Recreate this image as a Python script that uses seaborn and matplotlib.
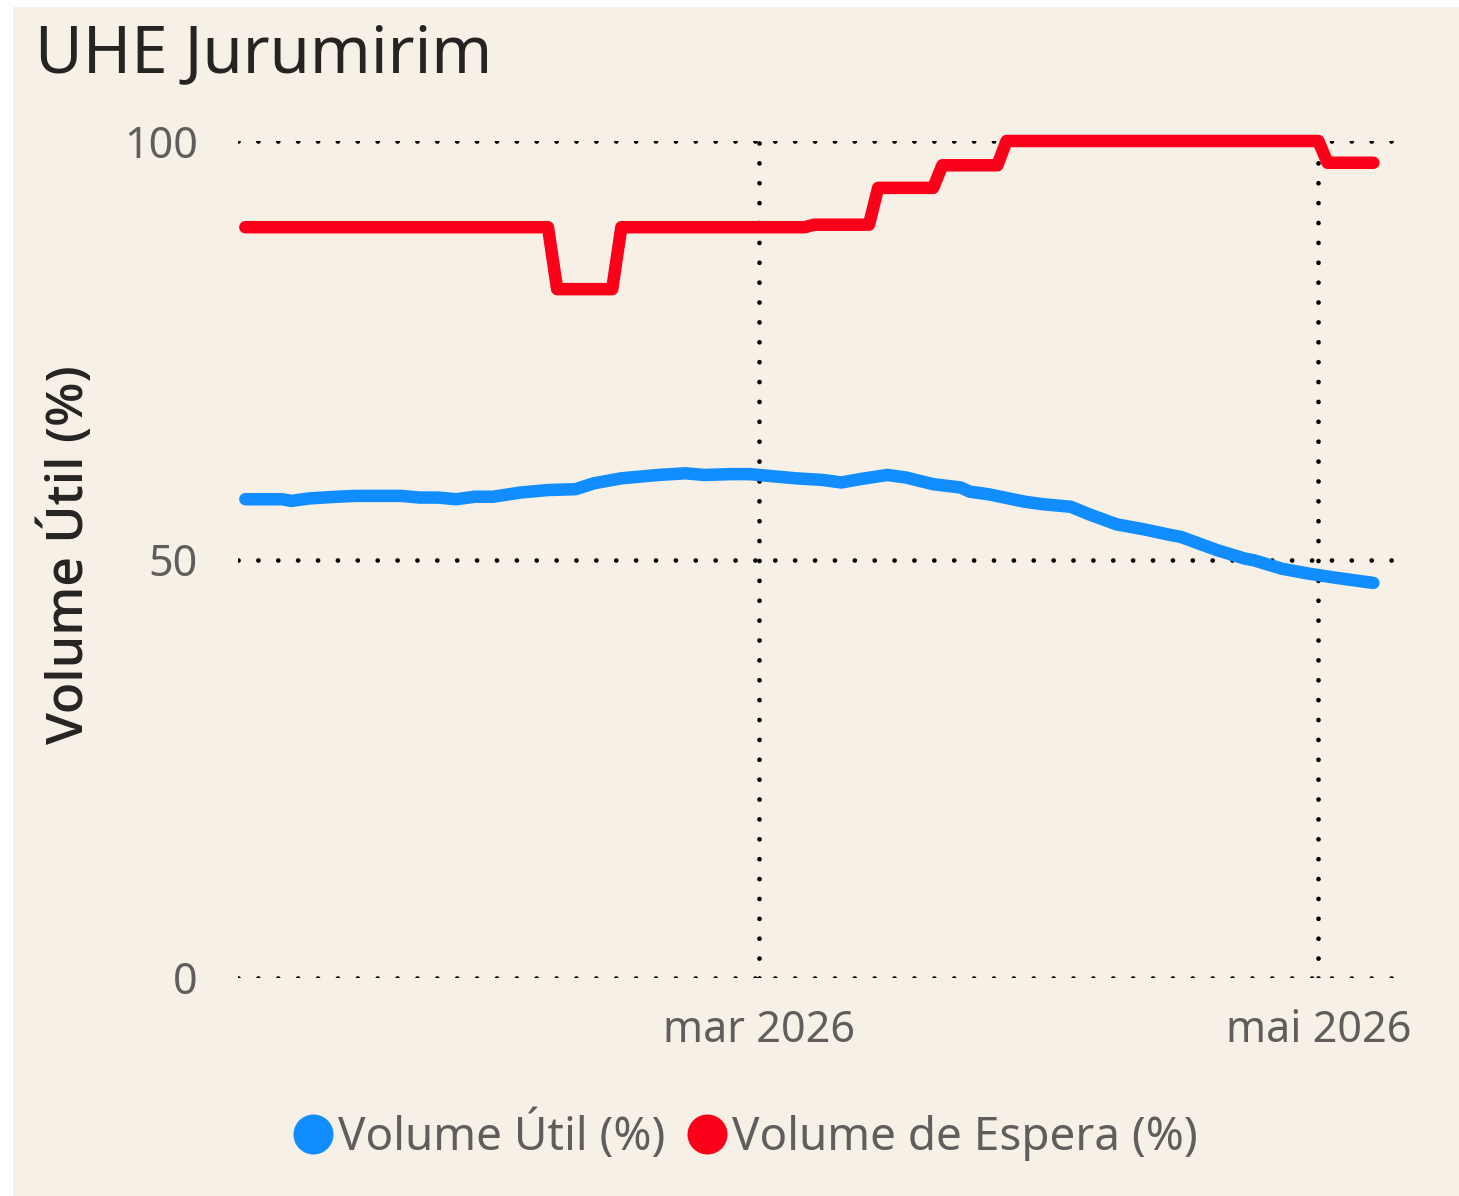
import matplotlib
matplotlib.use('Agg')
import matplotlib.pyplot as plt
from matplotlib.lines import Line2D
from matplotlib.patches import Rectangle
import pandas as pd
import seaborn as sns

# textos
titulo = 'UHE Jurumirim'
serie_util = 'Volume Útil (%)'
serie_espera = 'Volume de Espera (%)'
rotulo_y = 'Volume Útil (%)'

# Volume Útil (%)
datas_util = ['2026-01-04', '2026-01-08', '2026-01-09', '2026-01-11', '2026-01-14',
              '2026-01-16', '2026-01-21', '2026-01-23', '2026-01-25', '2026-01-27',
              '2026-01-29', '2026-01-31', '2026-02-03', '2026-02-06', '2026-02-09',
              '2026-02-11', '2026-02-14', '2026-02-18', '2026-02-21', '2026-02-23',
              '2026-02-26', '2026-02-28', '2026-03-02', '2026-03-05', '2026-03-08',
              '2026-03-10', '2026-03-12', '2026-03-15', '2026-03-17', '2026-03-20',
              '2026-03-23', '2026-03-24', '2026-03-26', '2026-03-30', '2026-04-01',
              '2026-04-04', '2026-04-06', '2026-04-09', '2026-04-12', '2026-04-15',
              '2026-04-16', '2026-04-20', '2026-04-23', '2026-04-24', '2026-04-27',
              '2026-04-30', '2026-05-03', '2026-05-07']
valores_util = [57.2, 57.2, 57.0, 57.3, 57.5,
                57.6, 57.6, 57.4, 57.4, 57.2,
                57.5, 57.5, 58.0, 58.3, 58.4,
                59.1, 59.7, 60.1, 60.3, 60.1,
                60.2, 60.2, 60.0, 59.7, 59.5,
                59.2, 59.6, 60.1, 59.8, 59.0,
                58.6, 58.1, 57.8, 56.9, 56.6,
                56.3, 55.4, 54.2, 53.6, 52.9,
                52.7, 51.1, 50.1, 49.9, 48.9,
                48.3, 47.8, 47.2]

# Volume de Espera (%) - pontos de mudança
datas_espera = ['2026-01-04', '2026-02-06', '2026-02-07', '2026-02-13', '2026-02-14',
                '2026-03-06', '2026-03-07', '2026-03-13', '2026-03-14', '2026-03-20',
                '2026-03-21', '2026-03-27', '2026-03-28', '2026-05-01', '2026-05-02',
                '2026-05-07']
valores_espera = [89.7, 89.7, 82.3, 82.3, 89.7,
                  89.7, 90.0, 90.0, 94.4, 94.4,
                  97.1, 97.1, 100.0, 100.0, 97.4,
                  97.4]

ticks_x = ['2026-03-01', '2026-05-01']
rotulos_x = ['mar 2026', 'mai 2026']
ticks_y = [0, 50, 100]

cores = {serie_util: '#118DFF', serie_espera: '#FD0019'}
fundo = '#F7F0E6'
cinza = '#605E5C'
escuro = '#252423'

df = pd.concat([
    pd.DataFrame({'data': pd.to_datetime(datas_util), 'valor': valores_util, 'serie': serie_util}),
    pd.DataFrame({'data': pd.to_datetime(datas_espera), 'valor': valores_espera, 'serie': serie_espera}),
], ignore_index=True)

sns.set_theme(style='white')
plt.rcParams['font.family'] = ['Noto Sans', 'DejaVu Sans']

W, H = 1459, 1196
fig = plt.figure(figsize=(W / 100, H / 100), dpi=100, facecolor='white')
fig.patches.append(Rectangle((13 / W, 0), 1, 1 - 7 / H, transform=fig.transFigure,
                             facecolor=fundo, edgecolor='none', zorder=-1))

ax = fig.add_axes([238 / W, 1 - 978 / H, 1162 / W, 837 / H])
ax.set_zorder(1)
ax.set_facecolor('none')

sns.lineplot(data=df, x='data', y='valor', hue='serie', palette=cores,
             estimator=None, linewidth=9, legend=False, ax=ax)
for ln in ax.get_lines():
    ln.set_clip_on(False)
    ln.set_solid_capstyle('round')
    ln.set_solid_joinstyle('round')
    ln.set_zorder(3)

mar1 = pd.Timestamp('2026-03-01')
ax.set_xlim(mar1 - pd.Timedelta(days=56.8), mar1 + pd.Timedelta(days=69.9))
ax.set_ylim(0, 100)

ax.set_xticks(pd.to_datetime(ticks_x))
ax.set_xticklabels(rotulos_x)
ax.set_yticks(ticks_y)
ax.set_yticklabels([str(v) for v in ticks_y])

ax.grid(True, color='black', linewidth=3.4, linestyle=(0, (0.01, 4.2)),
        dash_capstyle='round')
ax.set_axisbelow(True)
for s in ax.spines.values():
    s.set_visible(False)

ax.tick_params(axis='both', length=0, labelsize=31, labelcolor=cinza)
ax.tick_params(axis='y', pad=29)
ax.tick_params(axis='x', pad=22)
ax.set_xlabel('')
ax.set_ylabel('')

fig.text(67 / W, 1 - 555 / H, rotulo_y, rotation=90, ha='center', va='center',
         fontsize=37, color=escuro, family=['Open Sans', 'Noto Sans'],
         fontweight='semibold')
fig.text(35 / W, 1 - 72 / H, titulo, ha='left', va='baseline',
         fontsize=47, color=escuro)

handles = [Line2D([], [], marker='o', linestyle='', markersize=28.8,
                  markerfacecolor=cores[s], markeredgecolor='none')
           for s in [serie_util, serie_espera]]
fig.legend(handles, [serie_util, serie_espera], loc='center',
           bbox_to_anchor=(744 / W, 1 - 1136 / H), ncol=2, frameon=False,
           fontsize=33, labelcolor=cinza, handletextpad=0.05,
           columnspacing=0.4, handlelength=1.0)

fig.savefig('out.png', dpi=100, facecolor=fig.get_facecolor())
